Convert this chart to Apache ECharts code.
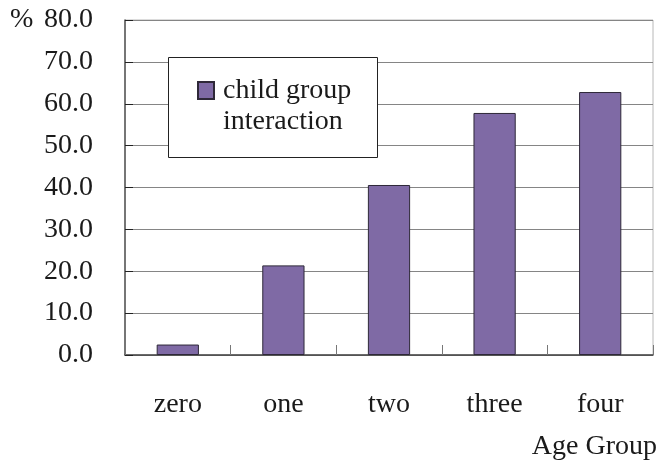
<!DOCTYPE html>
<html>
<head>
<meta charset="utf-8">
<script src="https://cdn.jsdelivr.net/npm/echarts@6/dist/echarts.min.js"></script>
<style>
  html, body { margin: 0; padding: 0; background: #fff; }
  #chart { width: 660px; height: 465px; }
</style>
</head>
<body>
<div id="chart"></div>
<script>
// Age groups along the x axis
const categories = ['zero', 'one', 'two', 'three', 'four'];
// Share (%) of child group interaction per age group
const interaction = [2.5, 21.4, 40.6, 57.8, 62.8];
const seriesName = 'child group interaction';
const legendLines = ['child group', 'interaction'];
const yTicks = { min: 0, max: 80, step: 10 };

const FONT = '"Liberation Serif", "Times New Roman", serif';
const TXT = '#1a1a1a';

const chart = echarts.init(document.getElementById('chart'), null, { renderer: 'canvas' });

chart.setOption({
  animation: false,
  backgroundColor: '#ffffff',
  textStyle: { fontFamily: FONT },
  title: [
    { text: '%', left: 10, top: 6, padding: 0,
      textStyle: { fontFamily: FONT, fontSize: 28, fontWeight: 'normal', color: TXT, lineHeight: 28 } },
    { text: 'Age Group', right: 3, top: 433, padding: 0,
      textStyle: { fontFamily: FONT, fontSize: 28, fontWeight: 'normal', color: TXT, lineHeight: 28 } }
  ],
  grid: {
    left: 125, right: 7, top: 20, bottom: 110,
    show: true, borderColor: '#b8b8b8', borderWidth: 1, backgroundColor: 'transparent'
  },
  legend: {
    data: [seriesName],
    left: 197, top: 44, padding: 0,
    itemWidth: 16, itemHeight: 17, itemGap: 0,
    icon: 'rect', selectedMode: false,
    // a blank first line keeps the icon level with the first text line
    formatter: () => '{s| }\n' + legendLines.map(l => '{t|' + l + '}').join('\n'),
    textStyle: {
      fontFamily: FONT, fontSize: 28, color: TXT, lineHeight: 31,
      rich: {
        s: { fontFamily: FONT, fontSize: 28, lineHeight: 31 },
        t: { fontFamily: FONT, fontSize: 28, color: TXT, lineHeight: 31, padding: [0, 0, 0, 4] }
      }
    }
  },
  graphic: [{
    type: 'rect', z: 1,
    shape: { x: 168.5, y: 57.5, width: 209, height: 100 },
    style: { fill: '#ffffff', stroke: '#222222', lineWidth: 1 }
  }],
  xAxis: {
    type: 'category',
    data: categories,
    axisLine: { lineStyle: { color: '#444444', width: 1.5 } },
    axisTick: { show: true, inside: true, length: 10, alignWithLabel: false, lineStyle: { color: '#777777' } },
    axisLabel: { fontFamily: FONT, fontSize: 28, color: TXT, margin: 36 },
    splitLine: { show: false }
  },
  yAxis: {
    type: 'value',
    min: yTicks.min, max: yTicks.max, interval: yTicks.step,
    axisLine: { show: true, lineStyle: { color: '#555555', width: 1.5 } },
    axisTick: { show: true, inside: true, length: 8, lineStyle: { color: '#222222' } },
    axisLabel: { fontFamily: FONT, fontSize: 28, color: TXT, margin: 32,
      formatter: v => v.toFixed(1) },
    splitLine: { show: true, lineStyle: { color: '#858585', width: 1.2 } }
  },
  series: [{
    name: seriesName,
    type: 'bar',
    data: interaction,
    barWidth: '40%',
    itemStyle: { color: '#7f6aa5', borderColor: '#2e2838', borderWidth: 1 }
  }]
});
</script>
</body>
</html>
